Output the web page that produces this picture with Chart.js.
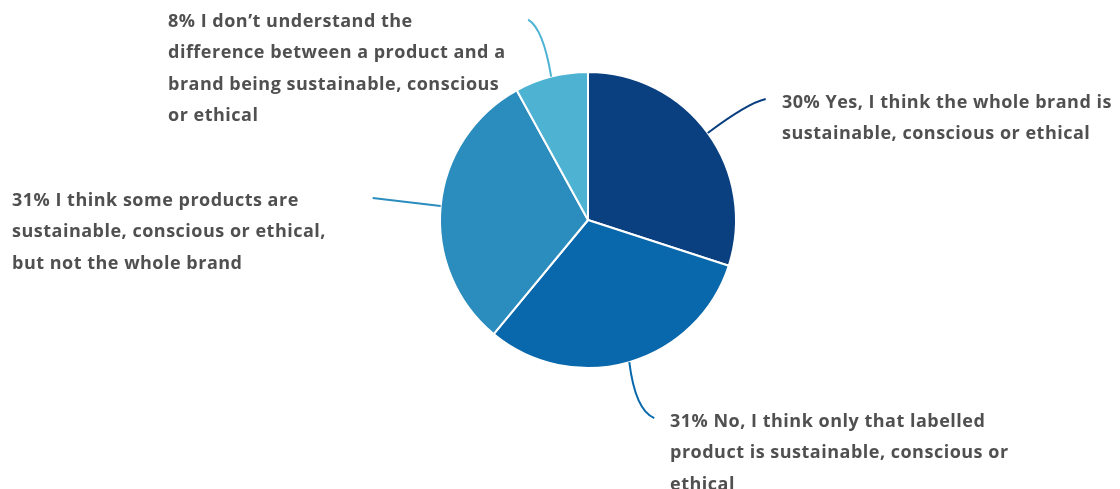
<!DOCTYPE html>
<html>
<head>
<meta charset="utf-8">
<script src="https://cdn.jsdelivr.net/npm/chart.js@4.4.1/dist/chart.umd.min.js"></script>
<style>
  html, body { margin: 0; padding: 0; background: #fff; }
  #wrap { width: 1120px; height: 489px; position: relative; }
</style>
</head>
<body>
<div id="wrap"><canvas id="chart1"></canvas></div>
<script>
// Data
var categories = [
  ['Yes, I think the whole brand is', 'sustainable, conscious or ethical'],
  ['No, I think only that labelled', 'product is sustainable, conscious or', 'ethical'],
  ['I think some products are', 'sustainable, conscious or ethical,', 'but not the whole brand'],
  ['I don\u2019t understand the', 'difference between a product and a', 'brand being sustainable, conscious', 'or ethical']
]
var shares = [30, 31, 31, 8]

// Styles
var sliceColors = ['#0b4080', '#0868ab', '#2b8cbe', '#4eb3d3']
// leader line: end offset and control offset from slice mid point, text box position
var leaders = [
  { end: [58, -34], ctrl: [40, -30], text: [782, 103] },
  { end: [25, 56],  ctrl: [6, 48],   text: [670, 422] },
  { end: [-68, -8], ctrl: null,      text: [12, 201] },
  { end: [-23, -57], ctrl: [-8, -48], text: [168, 22] }
]

var labelPlugin = {
  id: 'leaderLabels',
  afterDatasetsDraw: function(chart) {
    var ctx = chart.ctx
    var meta = chart.getDatasetMeta(0)
    ctx.save()
    meta.data.forEach(function(arc, i) {
      var p = arc.getProps(['x', 'y', 'startAngle', 'endAngle', 'outerRadius'], true)
      var mid = (p.startAngle + p.endAngle) / 2
      var sx = p.x + Math.cos(mid) * p.outerRadius
      var sy = p.y + Math.sin(mid) * p.outerRadius
      var L = leaders[i]
      ctx.beginPath()
      ctx.strokeStyle = sliceColors[i]
      ctx.lineWidth = 2
      ctx.moveTo(sx, sy)
      if (L.ctrl) {
        ctx.quadraticCurveTo(sx + L.ctrl[0], sy + L.ctrl[1], sx + L.end[0], sy + L.end[1])
      } else {
        ctx.lineTo(sx + L.end[0], sy + L.end[1])
      }
      ctx.stroke()

      ctx.fillStyle = '#505050'
      ctx.font = 'bold 18px "Open Sans"'
      ctx.letterSpacing = '0.5px'
      ctx.textBaseline = 'middle'
      ctx.textAlign = 'left'
      var lines = categories[i].slice()
      lines[0] = shares[i] + '% ' + lines[0]
      lines.forEach(function(t, k) {
        ctx.fillText(t, L.text[0], L.text[1] + k * 31.3)
      })
    })
    ctx.restore()
  }
}

var pieCanvas = document.getElementById('chart1').getContext('2d')
new Chart(pieCanvas, {
  type: 'pie',
  data: {
    labels: categories.map(function(c) { return c.join(' ') }),
    datasets: [{
      data: shares,
      backgroundColor: sliceColors,
      borderColor: '#ffffff',
      borderWidth: 2
    }]
  },
  options: {
    responsive: true,
    maintainAspectRatio: false,
    animation: false,
    layout: { padding: { top: 71, bottom: 120, left: 439, right: 383 } },
    plugins: {
      legend: { display: false },
      tooltip: { enabled: false }
    }
  },
  plugins: [labelPlugin]
})
</script>
</body>
</html>
